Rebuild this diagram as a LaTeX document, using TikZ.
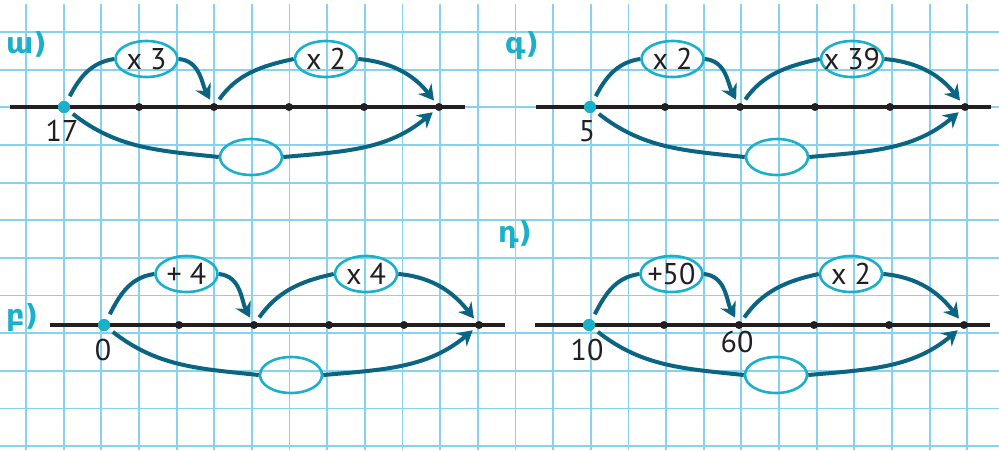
\documentclass[tikz,border=0pt]{standalone}
\usepackage{fontspec}
\setmainfont{PT Sans}
\newfontfamily\armfont{DejaVu Sans}
\usetikzlibrary{arrows.meta,shapes.geometric}
\definecolor{gridblue}{HTML}{86D3EE}
\definecolor{arcteal}{HTML}{0A6482}
\definecolor{ovalcyan}{HTML}{1AAFCB}
\definecolor{inkblack}{HTML}{231F20}

\newcommand\numpanel[6]{%
  \coordinate (#1L) at (#2-54,#3);
  \coordinate (#1R) at (#2+401,#3);
  \draw[numline] (#1L) -- (#1R);
  \node[startdot] (#1p0) at (#2,#3) {};
  \foreach \i in {1,...,5}{\node[tickdot] (#1p\i) at (#2+75*\i,#3) {};}
  \node[oval] (#1e1) at (#2+82.5,#3-#6) {};
  \node[oval] (#1e2) at (#2+262,#3-#6) {};
  \node[oval] (#1e3) at (#2+187,#3+50) {};
  \node[optext] (#1t1) at (#1e1) {#4};
  \node[optext] (#1t2) at (#1e2) {#5};
  \draw[jump,shorten <=6pt] (#1p0) to[out=62,in=188] (#1e1.west);
  \draw[jumparrow,shorten >=4pt] (#1e1.east) to[out=-5,in=118] (#1p2);
  \draw[jump,shorten <=5pt] (#1p2) to[out=55,in=192] (#1e2.west);
  \draw[jumparrow,shorten >=4pt] (#1e2.east) to[out=-5,in=128] (#1p5);
  \draw[jump,shorten <=5pt] (#1p0) to[out=-38,in=174] (#1e3.west);
  \draw[jumparrow,shorten >=4pt] (#1e3.east) to[out=5,in=-140] (#1p5);
  \node[startdot] at (#1p0) {};
}

\begin{document}
\begin{tikzpicture}[x=1pt,y=-1pt,
 gridline/.style={gridblue,line width=1.8pt},
 numline/.style={inkblack,line width=4.5pt},
 tickdot/.style={circle,fill=inkblack,inner sep=0,minimum size=8pt},
 startdot/.style={circle,fill=ovalcyan,inner sep=0,minimum size=12pt},
 oval/.style={ellipse,draw=ovalcyan,line width=2.6pt,minimum width=62pt,minimum height=36pt,inner sep=0},
 optext/.style={font=\fontsize{30}{32}\selectfont,text=inkblack,inner sep=0},
 numtext/.style={font=\fontsize{30}{32}\selectfont,text=inkblack,inner sep=0},
 partlabel/.style={font=\armfont\bfseries\fontsize{29}{31}\selectfont,text=ovalcyan,anchor=base west,inner sep=0},
 jump/.style={arcteal,line width=4pt},
 jumparrow/.style={jump,-{Stealth[length=15pt,width=17pt,inset=5pt]}},
]
\useasboundingbox (0,0) rectangle (999,450);
\fill[white] (0,0) rectangle (999,450);
\foreach \k in {0,...,25}{\draw[gridline] (26+37.65*\k,4) -- (26+37.65*\k,450);}
\foreach \j in {0,...,11}{\draw[gridline] (0,32+37.65*\j) -- (999,32+37.65*\j);}

\numpanel{a}{64}{107}{x 3}{x 2}{48}
\numpanel{c}{590}{107}{x 2}{x 39}{48}
\numpanel{b}{104}{325}{+ 4}{x 4}{51}
\numpanel{d}{589}{325}{+50}{x 2}{51}

\node[numtext] (n17) at (62,131) {17};
\node[numtext] (n5) at (587,131) {5};
\node[numtext] (n0) at (103,350) {0};
\node[numtext] (n10) at (587,350) {10};
\node[numtext] (n60) at (737,342) {60};

\node[partlabel] (la) at (6,53) {ա)};
\node[partlabel] (lc) at (505,53) {գ)};
\node[partlabel] (lb) at (6,325) {բ)};
\node[partlabel] (ld) at (498,242) {դ)};
\end{tikzpicture}
\end{document}
